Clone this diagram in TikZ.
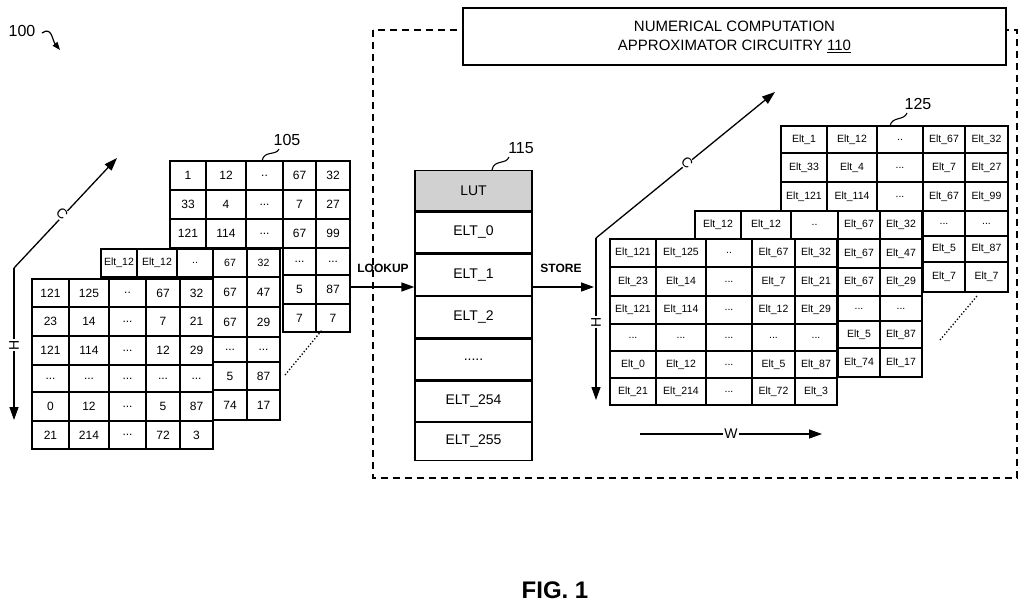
\documentclass[tikz,border=0pt]{standalone}
\usepackage{fontspec}
\setmainfont{Liberation Sans}
\usetikzlibrary{arrows.meta}
\tikzset{cell/.style={font=\fontsize{12}{14}\selectfont,inner sep=0pt},
 sm/.style={font=\fontsize{10.5}{12}\selectfont,inner sep=0pt},
 lut/.style={draw,line width=1.3pt,minimum width=117pt,font=\fontsize{14}{16}\selectfont,inner sep=0pt},
 lbl/.style={font=\fontsize{16}{18}\selectfont},
 arr/.style={-{Triangle[length=13pt,width=9pt]},line width=1.3pt}}
\newcommand\ddd{...}
\newcommand\dtw{..}
\newcommand\gridrow[4][cell]{\foreach \xa/\xb/\t in {#4}{\draw[fill=white,line width=1.4pt] (\xa,#2) rectangle (\xb,#3); \node[#1] at ({(\xa+\xb)/2},{(#2+#3)/2}) {\t};}}
\begin{document}
\begin{tikzpicture}[x=1pt,y=-1pt]
\useasboundingbox (0,0) rectangle (1024,607);
% label 100
\node[lbl] (l100) at (22,31) {100};
\draw[line width=1.2pt,-{Triangle[length=8pt,width=6pt]}] (42,33) .. controls (52,26) and (52,40) .. (60,50);
% left back grid
\gridrow{161}{190}{170/206/1,206/246/12,246/283/\dtw,283/316/67,316/350/32}
\gridrow{190}{219}{170/206/33,206/246/4,246/283/\ddd,283/316/7,316/350/27}
\gridrow{219}{248}{170/206/121,206/246/114,246/283/\ddd,283/316/67,316/350/99}
\gridrow{248}{275}{283/316/\ddd,316/350/\ddd}
\gridrow{275}{304}{283/316/5,316/350/87}
\gridrow{304}{332}{283/316/7,316/350/7}
\node[lbl] (l105) at (287,140) {105};
\draw[line width=1.1pt] (262,161) .. controls (264,150) and (276,156) .. (279,149);
% left middle grid
\gridrow[sm]{249}{277}{101/137/Elt\_12,137/177/Elt\_12,177/213/\dtw,213/247/67,247/280/32}
\gridrow{277}{307}{213/247/67,247/280/47}
\gridrow{307}{337}{213/247/67,247/280/29}
\gridrow{337}{362}{213/247/\ddd,247/280/\ddd}
\gridrow{362}{390}{213/247/5,247/280/87}
\gridrow{390}{420}{213/247/74,247/280/17}
% left front grid
\gridrow{279}{307}{32/69/121,69/109/125,109/146/\dtw,146/180/67,180/213/32}
\gridrow{307}{336}{32/69/23,69/109/14,109/146/\ddd,146/180/7,180/213/21}
\gridrow{336}{365}{32/69/121,69/109/114,109/146/\ddd,146/180/12,180/213/29}
\gridrow{365}{392}{32/69/\ddd,69/109/\ddd,109/146/\ddd,146/180/\ddd,180/213/\ddd}
\gridrow{392}{421}{32/69/0,69/109/12,109/146/\ddd,146/180/5,180/213/87}
\gridrow{421}{449}{32/69/21,69/109/214,109/146/\ddd,146/180/72,180/213/3}
\draw[dotted,line width=1.3pt] (285,375) -- (322,330);
% left axes
\coordinate (lo) at (14,268);
\coordinate (lc) at (117,158);
\coordinate (lh) at (14,420);
\draw[arr] (lo) -- (lc);
\draw[arr] (lo) -- (lh);
\node[fill=white,inner sep=1pt,rotate=-45,font=\fontsize{14}{16}\selectfont] at (62,214) {C};
\node[fill=white,inner sep=1pt,rotate=90,font=\fontsize{14}{16}\selectfont] at (14,345) {H};
% dashed box and title
\draw[dash pattern=on 7pt off 5pt,line width=1.3pt] (373,30) rectangle (1017,478);
\node[draw,fill=white,line width=1.2pt,minimum width=543pt,minimum height=57pt,align=center,font=\fontsize{15}{19}\selectfont] (title) at (734.5,36.5) {NUMERICAL COMPUTATION\\APPROXIMATOR CIRCUITRY \underline{110}};
% LUT
\node[lut,fill=black!18,minimum height=40pt,anchor=north] (lut) at (473.5,170) {LUT};
\node[lut,minimum height=41pt,anchor=north] (e0) at (lut.south) {ELT\_0};
\node[lut,minimum height=41pt,anchor=north] (e1) at (e0.south) {ELT\_1};
\node[lut,minimum height=41pt,anchor=north] (e2) at (e1.south) {ELT\_2};
\node[lut,minimum height=41pt,anchor=north] (ed) at (e2.south) {.....};
\node[lut,minimum height=40pt,anchor=north] (e254) at (ed.south) {ELT\_254};
\node[lut,minimum height=38pt,anchor=north] (e255) at (e254.south) {ELT\_255};
\node[lbl] (l115) at (521,148) {115};
\draw[line width=1.1pt] (492,170) .. controls (494,159) and (506,165) .. (509,157);
% arrows
\coordinate (lk) at (350,287);
\coordinate (st) at (594,287);
\draw[arr] (lk) -- (e1.west |- lk);
\draw[arr] (e1.east |- st) -- (st);
\node[font=\bfseries\fontsize{12}{14}\selectfont] (lookup) at (383,268) {LOOKUP};
\node[font=\bfseries\fontsize{12}{14}\selectfont] (store) at (561,268) {STORE};
% right back grid
\gridrow[sm]{126}{153}{781/827/Elt\_1,827/877/Elt\_12,877/923/\dtw,923/965/Elt\_67,965/1008/Elt\_32}
\gridrow[sm]{153}{182}{781/827/Elt\_33,827/877/Elt\_4,877/923/\ddd,923/965/Elt\_7,965/1008/Elt\_27}
\gridrow[sm]{182}{211}{781/827/Elt\_121,827/877/Elt\_114,877/923/\ddd,923/965/Elt\_67,965/1008/Elt\_99}
\gridrow[sm]{211}{236}{923/965/\ddd,965/1008/\ddd}
\gridrow[sm]{236}{262}{923/965/Elt\_5,965/1008/Elt\_87}
\gridrow[sm]{262}{292}{923/965/Elt\_7,965/1008/Elt\_7}
\node[lbl] (l125) at (918,104) {125};
\draw[line width=1.1pt] (890,126) .. controls (892,116) and (904,121) .. (907,113);
% right middle grid
\gridrow[sm]{211}{239}{695/741/Elt\_12,741/791/Elt\_12,791/838/\dtw,838/880/Elt\_67,880/922/Elt\_32}
\gridrow[sm]{239}{268}{838/880/Elt\_67,880/922/Elt\_47}
\gridrow[sm]{268}{296}{838/880/Elt\_67,880/922/Elt\_29}
\gridrow[sm]{296}{321}{838/880/\ddd,880/922/\ddd}
\gridrow[sm]{321}{348}{838/880/Elt\_5,880/922/Elt\_87}
\gridrow[sm]{348}{377}{838/880/Elt\_74,880/922/Elt\_17}
% right front grid
\gridrow[sm]{239}{267}{610/656/Elt\_121,656/706/Elt\_125,706/752/\dtw,752/795/Elt\_67,795/837/Elt\_32}
\gridrow[sm]{267}{296}{610/656/Elt\_23,656/706/Elt\_14,706/752/\ddd,752/795/Elt\_7,795/837/Elt\_21}
\gridrow[sm]{296}{324}{610/656/Elt\_121,656/706/Elt\_114,706/752/\ddd,752/795/Elt\_12,795/837/Elt\_29}
\gridrow[sm]{324}{351}{610/656/\ddd,656/706/\ddd,706/752/\ddd,752/795/\ddd,795/837/\ddd}
\gridrow[sm]{351}{378}{610/656/Elt\_0,656/706/Elt\_12,706/752/\ddd,752/795/Elt\_5,795/837/Elt\_87}
\gridrow[sm]{378}{405}{610/656/Elt\_21,656/706/Elt\_214,706/752/\ddd,752/795/Elt\_72,795/837/Elt\_3}
\draw[dotted,line width=1.3pt] (940,340) -- (977,296);
% right axes
\coordinate (ro) at (596,238);
\coordinate (rc) at (775,92);
\coordinate (rh) at (596,400);
\draw[arr] (ro) -- (rc);
\draw[arr] (ro) -- (rh);
\node[fill=white,inner sep=1pt,rotate=-45,font=\fontsize{14}{16}\selectfont] at (687,163) {C};
\node[fill=white,inner sep=1pt,rotate=90,font=\fontsize{14}{16}\selectfont] at (596,322) {H};
\coordinate (w0) at (640,434);
\coordinate (w1) at (822,434);
\draw[arr] (w0) -- (w1);
\node[fill=white,inner sep=1pt,font=\fontsize{14}{16}\selectfont] (wl) at (731,434) {W};
% figure label
\node[font=\bfseries\fontsize{24}{28}\selectfont] (fig) at (555,590) {FIG. 1};
\end{tikzpicture}
\end{document}
